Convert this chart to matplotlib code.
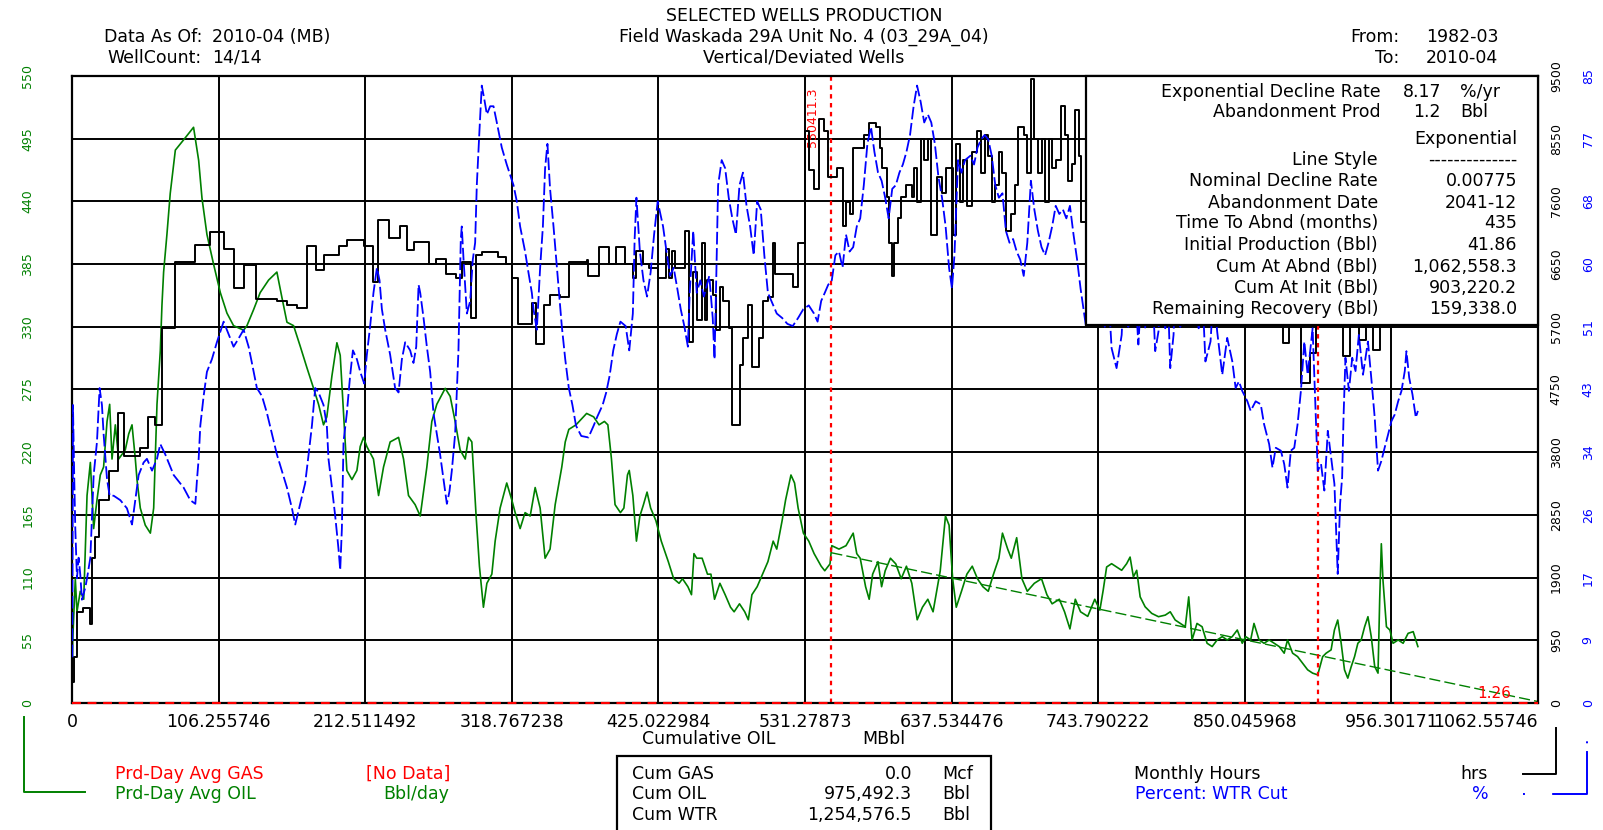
import matplotlib
matplotlib.use("Agg")
import matplotlib.pyplot as plt
import numpy as np
from matplotlib.patches import Rectangle
from matplotlib.lines import Line2D

plt.rcParams['font.family'] = ['DejaVu Sans']

# Prd-Day Avg OIL (Bbl/day) vs cumulative oil (MBbl)
oil_cum = [0.3, 0.5, 2.4, 3.6, 6.0, 8.5, 10.9, 13.3, 15.7, 18.1, 20.5, 22.9, 25.4, 27.3, 29.0, 31.4, 33.8, 36.2, 38.6, 41.1,
           43.5, 45.9, 47.1, 49.5, 53.1, 56.8, 59.2, 61.6, 64.0, 65.2, 66.4, 68.8, 71.2, 74.9, 80.9, 88.1, 91.8, 94.2, 97.8, 102.6,
           107.5, 112.3, 117.1, 124.4, 126.8, 131.6, 136.4, 142.5, 148.5, 152.1, 155.8, 160.6, 165.4, 170.3, 175.1, 178.7, 182.3, 184.7, 188.4, 192.0,
           194.4, 196.8, 199.2, 202.9, 206.5, 208.9, 211.3, 213.7, 218.5, 222.2, 225.8, 230.6, 236.7, 240.3, 243.9, 248.7, 252.4, 257.2, 260.8, 264.4,
           270.5, 274.1, 277.7, 281.3, 285.0, 287.4, 289.8, 292.9, 295.3, 298.2, 300.7, 304.3, 306.7, 310.3, 315.1, 318.8, 321.2, 324.8, 328.4, 332.1,
           335.7, 339.3, 342.9, 346.5, 350.2,
           355.0, 357.5, 360.1, 365.3, 373.0, 378.1, 382.0, 385.9, 388.4, 391.0, 393.6, 397.5, 400.0, 402.6, 403.9, 406.5, 409.1, 411.6, 414.2, 416.8,
           419.4, 423.2, 427.1, 432.2, 436.1, 440.0, 442.5, 446.4, 449.0, 450.8, 452.8, 456.7, 460.6, 463.1, 465.7, 469.6, 473.4, 477.3, 479.9, 483.8,
           487.6, 490.2, 492.8, 496.6, 500.5, 504.4, 508.2, 510.8, 514.7, 517.2, 521.1, 523.7, 526.3, 530.1, 534.0, 537.9, 543.0, 545.6, 549.4, 550.7,
           555.9, 561.0, 566.2, 568.8, 571.3, 575.2, 577.8, 580.3, 584.2, 586.8, 589.4, 593.2, 597.1, 601.0, 604.8, 608.7, 612.6, 616.4, 620.3, 624.1,
           626.7, 629.3, 633.1, 635.7, 638.3, 640.9, 644.7, 648.6, 652.5, 656.3, 660.2, 664.1, 667.9, 671.8, 674.4, 678.2, 680.8, 684.7, 688.5, 692.4,
           697.5, 702.7, 706.6, 710.4, 715.6, 719.4, 723.3, 727.2, 731.0, 736.2, 741.3,
           745.0, 747.4, 749.9, 753.5, 757.1, 760.8, 764.4, 766.9, 769.3, 771.7, 774.2, 777.8, 782.6, 787.5, 792.4, 796.0, 799.6, 803.3, 806.9, 809.4,
           811.8, 815.4, 819.1, 822.7, 826.4, 830.0, 833.7, 837.3, 840.9, 844.6, 848.2, 850.7, 854.3, 856.7, 860.4, 864.0, 867.7, 871.3, 875.0, 878.6,
           881.0, 884.7, 888.3, 892.0, 895.6, 899.2, 902.9, 906.5, 909.0, 912.6, 915.0, 917.4, 919.9, 922.3, 924.7, 927.2, 929.6, 932.0, 934.4, 936.9,
           939.3, 941.7, 944.2, 946.6, 947.8, 949.0, 950.2, 952.7, 955.2, 957.5, 961.2, 964.8, 968.4, 972.1, 975.5]
oil_rate = [30, 54.5, 109, 80, 98, 91, 182, 211, 153, 178, 200, 207, 247, 262, 214, 244, 214, 218, 222, 236,
            244, 214, 196, 171, 156, 149, 171, 262, 309, 349, 378, 411, 447, 485, 494, 505, 476, 443, 411, 385,
            360, 342, 331, 327, 331, 345, 360, 371, 378, 356, 334, 331, 313, 294, 276, 262, 244, 251, 287, 316,
            305, 254, 204, 196, 204, 225, 233, 225, 214, 182, 207, 229, 233, 214, 182, 174, 164, 207, 247, 262,
            276, 269, 247, 222, 214, 233, 229, 164, 120, 84, 105, 113, 142, 171, 193, 178, 167, 153, 167, 164,
            189, 171, 127, 135, 174,
            207, 229, 240, 244, 254, 251, 244, 247, 244, 214, 174, 167, 171, 200, 204, 182, 142, 164, 174, 185,
            171, 160, 142, 124, 109, 105, 109, 102, 95, 131, 127, 127, 113, 113, 91, 105, 95, 84, 80, 87,
            80, 73, 95, 102, 113, 124, 142, 135, 160, 178, 200, 193, 171, 149, 142, 131, 120, 116, 122, 138,
            135, 138, 149, 131, 127, 102, 91, 113, 124, 102, 116, 127, 122, 109, 120, 105, 73, 84, 91, 80,
            98, 116, 164, 156, 109, 84, 98, 113, 120, 109, 102, 98, 113, 127, 149, 135, 127, 145, 109, 98,
            105, 109, 95, 87, 91, 80, 65, 91, 80, 76, 91,
            81.5, 98.9, 119.3, 122.2, 119.3, 116.4, 122.2, 128.0, 110.6, 116.4, 93.1, 84.4, 78.6, 75.7, 77.1, 80.0, 72.8, 69.8, 66.9, 93.1,
            55.3, 69.8, 66.9, 52.4, 49.5, 55.3, 58.2, 55.3, 58.2, 64.0, 52.4, 58.2, 55.3, 69.8, 55.3, 52.4, 55.3, 52.4, 49.5, 43.7,
            55.3, 43.7, 40.7, 34.9, 29.1, 26.2, 24.7, 40.7, 43.7, 46.6, 64.0, 72.8, 52.4, 29.1, 21.8, 32.0, 40.7, 52.4, 55.3, 66.9,
            75.7, 58.2, 32.0, 26.2, 90.2, 139.7, 107.7, 66.9, 64.0, 52.4, 55.3, 52.4, 61.1, 62.6, 49.5]

# Monthly Hours (hrs), step line
hrs_cum = [0, 1.7, 3.6, 8.0, 12.8, 14.5, 16.9, 19.3, 26.6, 33.1, 37.9, 49.5, 54.8, 60.4, 65.2, 74.4, 89.4, 100.2, 109.9, 117.6,
           124.4, 133.5, 148.5, 155.8, 163.0, 170.3, 176.8, 182.3, 193.2, 199.2, 211.8, 218.5, 221.7, 230.1, 237.4, 242.7, 248.0, 258.9, 263.9, 271.2,
           278.4, 283.0, 289.3, 292.7, 297.0, 308.6, 314.7, 319.2, 323.1, 333.3, 336.2, 342.4, 346.1,
           353.7, 360.1, 373.0, 374.3, 382.0, 389.0, 394.4, 400.8, 406.5, 408.5, 414.2, 418.1, 424.5, 430.2, 432.7, 434.8, 437.4, 444.6, 447.2, 450.3,
           452.8, 456.7, 458.5, 460.1, 464.4, 467.0, 469.6, 472.2, 476.0, 478.6, 484.3, 486.3, 490.2, 492.8, 497.9, 500.5, 504.4, 508.2, 509.5, 522.4,
           526.3, 531.4, 534.0, 537.8, 541.7, 545.1, 547.6, 554.6, 558.5, 561.0, 563.6, 566.2, 573.9, 577.8, 582.9, 585.5, 586.8, 590.7, 591.9, 594.5,
           595.8, 598.4, 600.9, 604.8, 608.7, 610.0, 612.5, 615.1, 617.7, 620.3, 622.8, 626.7, 630.6, 633.2, 638.3, 640.9, 643.5, 646.0, 648.6, 652.5,
           656.3, 658.9, 661.5, 664.1, 666.6, 669.2, 671.8, 674.4, 676.9, 680.8, 683.4, 686.0, 689.8, 692.4, 695.0, 697.5, 700.1, 702.7, 705.3, 707.8,
           710.4, 713.0, 716.9, 719.4, 722.0, 724.6, 727.2, 729.7, 731.0,
           735, 740, 748, 756, 764, 772, 780, 790, 798, 808, 818, 828, 838, 848, 858, 866, 874, 878, 882, 888,
           891, 897, 902, 910, 918, 921, 926, 933, 938, 943, 948, 955, 963, 970, 975.5]
hrs_val = [314, 691, 1381, 1444, 1193, 2198, 2512, 3077, 3516, 4395, 3736, 3862, 4333, 4207, 5682, 6675, 6938, 7139, 6876, 6292,
           6637, 6122, 6091, 6028, 5978, 6926, 6562, 6781, 6919, 7020, 6926, 6373, 7315, 7045, 7221, 6857, 6989, 6656, 6731, 6499,
           6436, 6687, 5839, 6781, 6832, 6750, 6656, 6436, 5745, 6059, 5444, 6028, 6185,
           6153, 6675, 6706, 6467, 6907, 6656, 6907, 6656, 6436, 6844, 6656, 6593, 6436, 6876, 6436, 6844, 6593, 7158, 5463, 6530,
           5808, 6970, 5808, 6405, 6185, 5651, 6310, 6091, 5682, 4207, 5117, 5526, 6028, 5086, 5526, 6091, 6153, 6970, 6499, 6310,
           6970, 8665, 8069, 7786, 8853, 8665, 7974, 8100, 7221, 7598, 7409, 8414, 8602, 8791, 8728, 8414, 8100, 7660, 6970, 6467,
           6970, 7346, 7660, 7849, 7660, 8100, 7598, 8539, 8225, 8539, 7095, 7974, 7723, 8100, 7095, 8477, 7598, 8225, 7535, 8351,
           8665, 8037, 8602, 8288, 7598, 7849, 8351, 8037, 7158, 7409, 7849, 8728, 8602, 8037, 9450, 8539, 8037, 8539, 7598, 8539,
           8100, 8225, 9042, 8602, 7912, 8163, 8979, 8288, 7284,
           8500, 7800, 8300, 7600, 8400, 7400, 8100, 7300, 8000, 7200, 7900, 7000, 7700, 6900, 7500, 6700, 5900, 5450, 6600, 5900,
           4850, 5300, 6500, 7200, 6400, 5250, 6600, 5500, 5800, 5350, 6900, 7600, 7000, 7400, 7400]

# Percent WTR Cut (%)
wcut_cum = [0.2, 0.7, 1.7, 2.4, 3.6, 4.8, 6.0, 7.2, 9.7, 10.9, 13.3, 15.7, 18.1, 20.0, 21.7, 22.9, 25.4, 27.3, 30.2, 35.0,
            39.8, 43.5, 45.9, 48.3, 51.9, 54.3, 58.0, 61.6, 64.0, 67.6, 73.7, 80.9, 85.7, 89.4, 90.6, 91.8, 93.0, 95.4, 97.8, 101.4,
            105.0, 109.9, 113.5, 117.1, 120.7, 124.4, 128.0, 130.4, 134.0, 137.7, 141.3, 144.9, 148.5, 152.1, 155.8, 159.4, 161.8, 165.4, 169.0, 171.5,
            173.9, 176.3, 178.7, 182.3, 184.7, 185.9, 188.4, 190.8, 193.2, 194.4, 195.6, 196.8, 199.2, 201.6, 203.6, 206.5, 208.9, 211.8, 213.7, 216.1,
            218.5, 221.0, 222.9, 224.6, 227.0, 230.6, 234.2, 236.7, 239.1, 241.5, 245.1, 247.5, 249.5, 251.2, 252.4, 254.8, 257.2, 259.6, 262.0, 264.4,
            266.8, 269.3, 271.7, 273.6, 275.3, 277.7, 280.1, 281.8, 282.5, 283.8, 286.2, 288.6, 290.5, 292.2, 293.4, 295.3, 297.0, 298.7, 300.7, 303.1,
            305.5, 307.9, 311.5, 315.1, 320.0, 322.4, 324.8, 328.4, 330.8, 333.3, 334.5, 336.9, 339.3, 341.3, 342.9, 344.6, 346.5, 349.0,
            355.0, 357.5, 360.1, 362.7, 365.3, 369.1, 374.3, 378.1, 380.7, 384.6, 387.2, 389.7, 392.3, 394.9, 397.5, 401.3, 403.9, 406.5, 407.8, 409.1,
            411.6, 414.2, 416.8, 419.4, 421.9, 424.5, 428.4, 430.9, 433.5, 436.1, 438.7, 441.2, 443.8, 446.4, 447.7, 450.3, 452.8, 455.4, 458.0, 461.9,
            464.4, 465.7, 467.0, 468.3, 470.9, 473.4, 476.0, 478.6, 481.2, 483.8, 486.3, 488.9, 491.5, 494.1, 496.6, 499.2, 501.8, 504.4, 506.9, 510.8,
            514.7, 518.5, 522.4, 526.3, 530.1, 534.0, 537.8, 540.4, 543.0, 545.6, 548.1, 550.7, 553.3, 555.9, 558.5, 561.0, 563.6, 566.2, 568.8, 571.3,
            573.9, 576.5, 579.1, 581.6, 584.2, 586.8, 589.4, 591.9, 594.5, 597.1, 599.7, 602.2, 604.8, 607.4, 610.0, 612.5, 615.1, 617.7, 620.3, 622.8,
            625.4, 628.0, 630.6, 633.2, 635.7, 637.8, 639.6, 642.2, 644.7, 647.3, 651.2, 653.8, 656.3, 658.9, 661.5, 664.1, 666.6, 669.2, 671.8, 674.4,
            676.9, 679.5, 682.1, 684.7, 687.3, 689.8, 692.4, 695.0, 697.5, 700.1, 702.7, 705.3, 707.8, 710.4, 713.0, 715.6, 718.2, 720.7, 723.3, 725.9,
            728.5, 731.0, 734.9,
            739.0, 744.0, 748.6, 750.5, 753.5, 757.1, 760.8, 762.8, 765.6, 768.8, 772.9, 775.5, 777.8, 781.5, 785.1, 787.5, 790.0, 792.4, 794.2, 796.0,
            798.4, 800.5, 803.3, 806.5, 810.0, 813.5, 816.6, 819.0, 821.5, 825.2, 827.5, 830.0, 833.7, 837.3, 841.0, 843.4, 845.8, 848.2, 851.9, 854.3,
            857.9, 861.6, 864.0, 867.7, 870.1, 872.5, 876.2, 878.6, 881.0, 883.4, 885.9, 888.3, 890.7, 893.2, 895.6, 899.2, 902.9, 905.3, 907.7, 910.2,
            912.6, 915.0, 917.4, 919.1, 920.6, 921.6, 923.0, 925.5, 927.9, 930.3, 932.7, 935.7, 939.3, 941.7, 944.2, 946.6, 949.0, 951.4, 953.9, 956.3,
            958.7, 961.2, 963.6, 966.0, 967.2, 969.2, 971.6, 974.0, 975.5]
wcut_val = [6.2, 40.4, 29.8, 23.6, 16.9, 19.7, 17.4, 14.0, 15.7, 16.9, 19.7, 30.9, 35.4, 42.7, 40.4, 36.5, 30.3, 28.1, 28.1, 27.5,
            26.4, 24.2, 27.5, 30.9, 32.6, 33.1, 31.5, 33.1, 35.1, 33.7, 30.9, 29.2, 27.5, 27.0, 30.3, 33.1, 37.6, 41.6, 44.9, 46.6,
            48.9, 51.7, 50.0, 48.3, 49.4, 50.6, 48.3, 46.1, 42.7, 41.6, 39.3, 36.5, 33.7, 31.5, 29.2, 26.4, 24.2, 27.0, 29.8, 33.7,
            37.6, 42.7, 42.1, 40.4, 37.6, 33.1, 29.2, 25.3, 20.8, 18.0, 23.6, 35.4, 39.3, 44.4, 47.8, 46.6, 44.9, 43.3, 47.2, 51.1,
            55.6, 59.0, 57.3, 53.4, 50.6, 47.2, 42.7, 42.1, 46.6, 48.9, 47.8, 46.1, 48.3, 56.7, 55.6, 52.2, 48.3, 44.9, 39.3, 36.5,
            33.7, 30.3, 27.0, 28.7, 31.5, 36.5, 47.8, 62.9, 64.6, 60.1, 52.8, 54.5, 60.1, 62.4, 70.2, 77.5, 83.7, 82.0, 79.8, 80.9,
            80.9, 78.7, 75.3, 73.0, 70.2, 68.0, 64.6, 61.2, 58.4, 55.6, 53.4, 50.6, 59.0, 64.6, 72.5, 75.8, 69.7, 64.6,
            51.1, 46.6, 42.7, 40.4, 37.6, 36.2, 36.0, 37.6, 38.8, 40.4, 42.1, 44.4, 47.8, 50.0, 51.7, 51.1, 47.8, 52.8, 62.9, 68.5,
            61.2, 57.3, 55.1, 58.4, 63.5, 68.0, 64.6, 61.2, 57.9, 59.0, 56.2, 53.4, 51.1, 48.3, 55.6, 64.0, 55.6, 57.3, 55.1, 57.9,
            52.2, 46.6, 57.9, 70.2, 73.6, 72.5, 68.5, 65.7, 63.5, 70.2, 71.9, 67.4, 64.6, 60.7, 68.0, 66.9, 60.7, 55.6, 54.5, 52.8,
            52.2, 51.4, 51.1, 52.2, 53.4, 53.9, 52.8, 51.7, 54.5, 55.6, 56.7, 57.3, 60.7, 61.2, 59.0, 63.5, 61.2, 61.8, 64.6, 65.7,
            70.2, 75.8, 78.1, 74.7, 71.9, 70.8, 68.5, 65.7, 69.7, 70.2, 71.9, 73.0, 74.7, 77.0, 80.9, 83.7, 81.5, 78.7, 79.8, 78.7,
            75.8, 71.3, 68.5, 64.6, 59.0, 56.2, 60.7, 73.6, 71.9, 73.6, 74.2, 73.0, 75.3, 76.4, 77.0, 76.4, 74.2, 70.2, 68.5, 69.1,
            64.0, 62.4, 62.9, 61.2, 60.1, 57.9, 62.4, 70.8, 66.9, 64.0, 61.8, 60.7, 62.4, 64.6, 67.4, 66.3, 66.9, 65.7, 67.4, 63.5,
            60.1, 56.2, 51.1,
            57, 54, 51.0, 58, 48.1, 45.4, 49.9, 58, 51.0, 62, 48.6, 57, 50.8, 63, 47.7, 50.4, 59, 50.8, 56, 45.4,
            49.9, 60, 51.0, 66, 58, 63, 50.8, 57, 46.3, 49.0, 56, 50.4, 44.5, 49.5, 46.3, 42.7, 43.6, 42.3, 40.9, 39.6,
            40.9, 40.5, 37.8, 35.1, 31.9, 34.6, 34.2, 32.4, 29.2, 34.2, 34.6, 37.8, 42.3, 49.0, 44.5, 50.8, 31.5, 32.4, 28.8, 36.9,
            33.3, 29.7, 17.5, 27.0, 30.6, 38.7, 46.8, 42.3, 46.8, 45.0, 49.9, 44.5, 49.0, 44.1, 38.7, 31.5, 32.8, 34.6, 36.4, 38.2,
            39.1, 40.9, 42.3, 45.0, 47.7, 44.1, 41.8, 38.7, 39.6]

# exponential decline fit / forecast
decline_cum = [550.4, 903.2, 1062.56]
decline_rate = [131.8, 41.86, 1.26]
marker_cum = [550.4, 903.2]

x_max = 1062.55746
x_labels = ["0", "106.255746", "212.511492", "318.767238", "425.022984", "531.27873",
            "637.534476", "743.790222", "850.045968", "956.30171", "1062.55746"]
oil_labels = ["0", "55", "110", "165", "220", "275", "330", "385", "440", "495", "550"]
hrs_labels = ["0", "950", "1900", "2850", "3800", "4750", "5700", "6650", "7600", "8550", "9500"]
wcut_labels = ["0", "9", "17", "26", "34", "43", "51", "60", "68", "77", "85"]

box_top = [("Exponential Decline Rate", "8.17", "%/yr"), ("Abandonment Prod", "1.2", "Bbl")]
box_rows = [("Line Style", "--------------"), ("Nominal Decline Rate", "0.00775"),
            ("Abandonment Date", "2041-12"), ("Time To Abnd (months)", "435"),
            ("Initial Production (Bbl)", "41.86"), ("Cum At Abnd (Bbl)", "1,062,558.3"),
            ("Cum At Init (Bbl)", "903,220.2"), ("Remaining Recovery (Bbl)", "159,338.0")]
cum_rows = [("Cum GAS", "0.0", "Mcf"), ("Cum OIL", "975,492.3", "Bbl"), ("Cum WTR", "1,254,576.5", "Bbl")]

GREEN, BLUE, RED = "#008000", "#0000ff", "#ff0000"
W, H = 1603, 830
fig = plt.figure(figsize=(W / 100, H / 100), dpi=100)


def fx(px):
    return px / W


def fy(py):
    return 1 - py / H


ax = fig.add_axes([fx(72), fy(703), (1538 - 72) / W, (703 - 76) / H])
ax2 = ax.twinx()
ax3 = ax.twinx()

ax.set_xlim(0, x_max)
ax.set_ylim(0, 550)
ax2.set_ylim(0, 9500)
ax3.set_ylim(0, 85)

ax.set_xticks(np.linspace(0, x_max, len(x_labels)))
ax.set_xticklabels(x_labels, fontsize=12.5)
ax.get_xticklabels()[-1].set_horizontalalignment("right")
ax.set_yticks(np.linspace(0, 550, len(oil_labels)))
ax.set_yticklabels(oil_labels, color=GREEN, fontsize=9, rotation=90, va="center")
ax2.set_yticks(np.linspace(0, 9500, len(hrs_labels)))
ax2.set_yticklabels(hrs_labels, color="black", fontsize=9, rotation=90, va="center")
ax3.set_yticks(np.linspace(0, 85, len(wcut_labels)))
ax3.set_yticklabels(wcut_labels, color=BLUE, fontsize=9, rotation=90, va="center")
ax.tick_params(axis="x", length=0, pad=7)
ax.tick_params(axis="y", length=0, pad=27)
ax2.tick_params(axis="y", length=0, pad=8.5)
ax3.tick_params(axis="y", length=0, pad=31.5)
ax.grid(True, color="black", lw=1.4)
ax.set_axisbelow(True)
for s in ax.spines.values():
    s.set_linewidth(1.6)
for a in (ax2, ax3):
    for s in a.spines.values():
        s.set_visible(False)

# series
ax.plot(oil_cum, oil_rate, color=GREEN, lw=1.2)
ax.plot(decline_cum, decline_rate, color=GREEN, lw=1.0, ls=(0, (8, 3)))
for c in marker_cum:
    ax.axvline(c, color=RED, ls=(0, (2, 2)), lw=1.6)
ax.axhline(0, color=RED, ls=(0, (4, 3)), lw=1.6, clip_on=False, zorder=4)
ax.text(536.5, 540, "550411.3", rotation=90, color=RED, fontsize=9, ha="center", va="top")
ax.text(1031, 2, "1.26", color=RED, fontsize=11, ha="center", va="bottom")
ax2.step(hrs_cum, hrs_val, where="post", color="black", lw=1.4)
ax3.plot(wcut_cum, wcut_val, color=BLUE, lw=1.3, ls=(0, (7, 2)))

# info box (on top of everything)
fig.add_artist(Rectangle((fx(1086), fy(325)), (1538 - 1086) / W, (325 - 76) / H, transform=fig.transFigure,
                         facecolor="white", edgecolor="black", lw=1.6, zorder=5))
fs = 12.5
for (lab, val, unit), yy in zip(box_top, [92, 112]):
    fig.text(fx(1381), fy(yy), lab, ha="right", va="center", fontsize=fs, zorder=6)
    fig.text(fx(1441), fy(yy), val, ha="right", va="center", fontsize=fs, zorder=6)
    fig.text(fx(1460), fy(yy), unit, ha="left", va="center", fontsize=fs, zorder=6)
fig.text(fx(1517), fy(139), "Exponential", ha="right", va="center", fontsize=fs, zorder=6)
for (lab, val), yy in zip(box_rows, [160, 181, 203, 223, 245, 267, 288, 309]):
    fig.text(fx(1378), fy(yy), lab, ha="right", va="center", fontsize=fs, zorder=6)
    fig.text(fx(1517), fy(yy), val, ha="right", va="center", fontsize=fs, zorder=6)

# header
fig.text(fx(804), fy(16), "SELECTED WELLS PRODUCTION", ha="center", va="center", fontsize=fs)
fig.text(fx(804), fy(37), "Field Waskada 29A Unit No. 4 (03_29A_04)", ha="center", va="center", fontsize=fs)
fig.text(fx(804), fy(58), "Vertical/Deviated Wells", ha="center", va="center", fontsize=fs)
fig.text(fx(202), fy(37), "Data As Of:", ha="right", va="center", fontsize=fs)
fig.text(fx(212), fy(37), "2010-04 (MB)", ha="left", va="center", fontsize=fs)
fig.text(fx(202), fy(58), "WellCount:", ha="right", va="center", fontsize=fs)
fig.text(fx(212), fy(58), "14/14", ha="left", va="center", fontsize=fs)
fig.text(fx(1399), fy(37), "From:", ha="right", va="center", fontsize=fs)
fig.text(fx(1426), fy(37), "1982-03", ha="left", va="center", fontsize=fs)
fig.text(fx(1399), fy(58), "To:", ha="right", va="center", fontsize=fs)
fig.text(fx(1426), fy(58), "2010-04", ha="left", va="center", fontsize=fs)

# x label
fig.text(fx(642), fy(739), "Cumulative OIL", ha="left", va="center", fontsize=fs)
fig.text(fx(862), fy(739), "MBbl", ha="left", va="center", fontsize=fs)

# bottom legends
fig.text(fx(115), fy(774), "Prd-Day Avg GAS", color=RED, ha="left", va="center", fontsize=fs)
fig.text(fx(366), fy(774), "[No Data]", color=RED, ha="left", va="center", fontsize=fs)
fig.text(fx(115), fy(794), "Prd-Day Avg OIL", color=GREEN, ha="left", va="center", fontsize=fs)
fig.text(fx(383), fy(794), "Bbl/day", color=GREEN, ha="left", va="center", fontsize=fs)
fig.add_artist(Line2D([fx(24), fx(24), fx(85)], [fy(717), fy(792), fy(792)], color=GREEN, lw=1.4))

fig.add_artist(Rectangle((fx(617), fy(840)), (991 - 617) / W, (840 - 756) / H, transform=fig.transFigure,
                         facecolor="none", edgecolor="black", lw=1.6))
for (lab, val, unit), yy in zip(cum_rows, [774, 794, 815]):
    fig.text(fx(632), fy(yy), lab, ha="left", va="center", fontsize=fs)
    fig.text(fx(912), fy(yy), val, ha="right", va="center", fontsize=fs)
    fig.text(fx(942), fy(yy), unit, ha="left", va="center", fontsize=fs)

fig.text(fx(1134), fy(774), "Monthly Hours", color="black", ha="left", va="center", fontsize=fs)
fig.text(fx(1460), fy(774), "hrs", color="black", ha="left", va="center", fontsize=fs)
fig.text(fx(1135), fy(794), "Percent: WTR Cut", color=BLUE, ha="left", va="center", fontsize=fs)
fig.text(fx(1480), fy(794), "%", color=BLUE, ha="center", va="center", fontsize=fs)
fig.add_artist(Line2D([fx(1523), fx(1556), fx(1556)], [fy(774), fy(774), fy(728)], color="black", lw=1.4))
fig.add_artist(Line2D([fx(1523), fx(1587), fx(1587)], [fy(794), fy(794), fy(728)], color=BLUE, lw=1.4,
                      ls=(0, (1, 14, 40, 4))))

fig.savefig("out.png", dpi=100)
